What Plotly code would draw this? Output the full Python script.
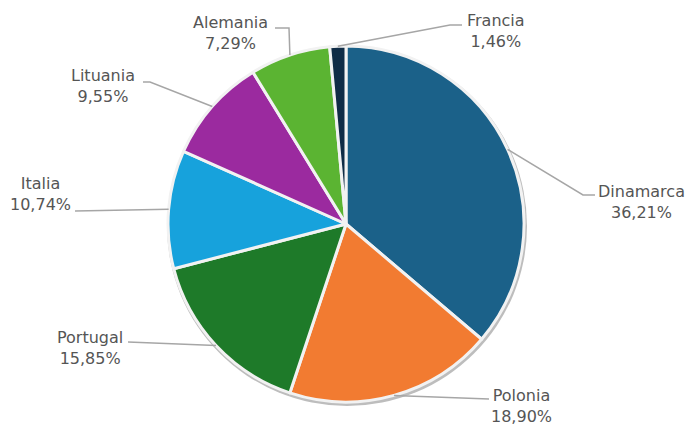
import math
import plotly.graph_objects as go

paises = ["Dinamarca", "Polonia", "Portugal", "Italia", "Lituania", "Alemania", "Francia"]
porcentajes = [36.21, 18.90, 15.85, 10.74, 9.55, 7.29, 1.46]
colores = ["#1b6189", "#f27b31", "#1e7a29", "#17a2dc", "#9b2a9f", "#5bb432", "#0f2c46"]

W, H = 689, 425
cx, cy, r = 346, 224, 178

# posicion de cada etiqueta (px): centro del texto, inicio de la linea, codo
etiquetas = {
    "Dinamarca": ((641, 202), (595, 195), (583, 195)),
    "Polonia": ((521, 406), (489, 399), (489, 399)),
    "Portugal": ((90, 348), (128, 342), (128, 342)),
    "Italia": ((40, 194), (75, 211), (75, 211)),
    "Lituania": ((103, 86), (143, 82), (150, 82)),
    "Alemania": ((231, 33), (275, 28), (289, 28)),
    "Francia": ((496, 31), (462, 25), (450, 25)),
}


def px(x, y):
    return x / W, 1 - y / H


def dominio(x0, y0, rad):
    return dict(x=[(x0 - rad) / W, (x0 + rad) / W], y=[1 - (y0 + rad) / H, 1 - (y0 - rad) / H])


fig = go.Figure()
# sombra
fig.add_trace(go.Pie(
    values=[1], labels=["sombra"], marker=dict(colors=["#bdbdbd"], line=dict(width=0)),
    textinfo="none", hoverinfo="skip", showlegend=False, sort=False,
    domain=dominio(cx + 1, cy + 2, r + 2),
))
fig.add_trace(go.Pie(
    labels=paises, values=porcentajes, sort=False, direction="clockwise", rotation=0,
    marker=dict(colors=colores, line=dict(color="#f2f2f2", width=3)),
    textinfo="none", hoverinfo="label+percent", showlegend=False,
    domain=dominio(cx, cy, r),
))

total = sum(porcentajes)
acum = 0
shapes = []
annotations = []
for pais, v in zip(paises, porcentajes):
    medio = (acum + v / 2) / total * 2 * math.pi
    acum += v
    ex, ey = cx + r * math.sin(medio), cy - r * math.cos(medio)
    (tx, ty), (sx, sy), (kx, ky) = etiquetas[pais]
    pts = [px(sx, sy), px(kx, ky), px(ex, ey)]
    path = "M %f,%f L %f,%f L %f,%f" % (pts[0] + pts[1] + pts[2])
    shapes.append(dict(type="path", path=path, xref="paper", yref="paper",
                       line=dict(color="#a6a6a6", width=1.5)))
    ax_, ay_ = px(tx, ty)
    texto = "%s<br>%s%%" % (pais, ("%.2f" % v).replace(".", ","))
    annotations.append(dict(x=ax_, y=ay_, xref="paper", yref="paper", text=texto,
                            showarrow=False, xanchor="center", yanchor="middle", align="center",
                            font=dict(family="DejaVu Sans", size=16, color="#555555")))

fig.update_layout(
    width=W, height=H, margin=dict(l=0, r=0, t=0, b=0),
    paper_bgcolor="white", plot_bgcolor="white",
    shapes=shapes, annotations=annotations,
)
fig.write_html("out.html", config={"displayModeBar": False},
               post_script="document.body.style.margin='0';")
